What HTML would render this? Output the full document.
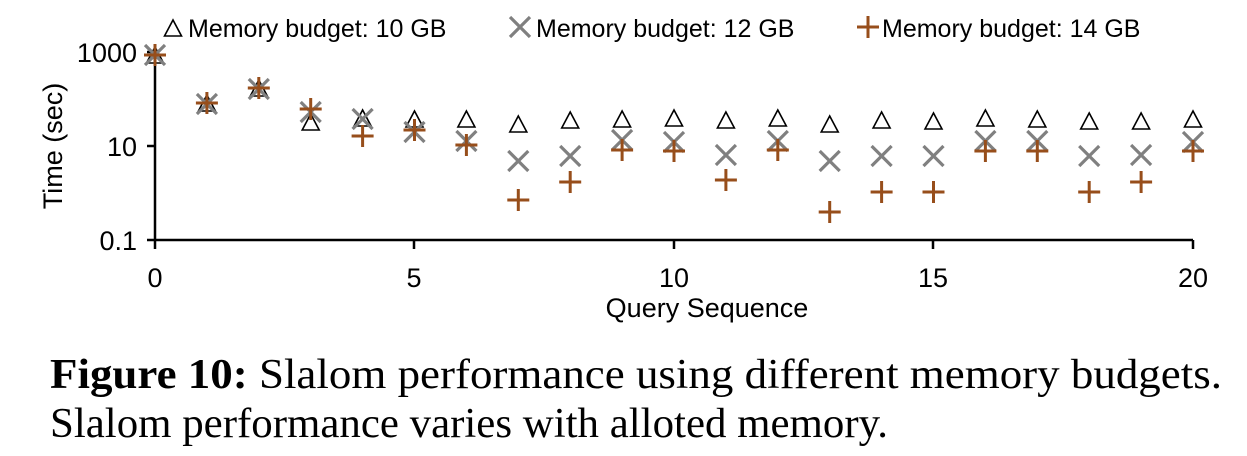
<!DOCTYPE html>
<html><head><style>
body{margin:0;background:#fff;width:1247px;height:451px;overflow:hidden}
</style></head><body>
<svg width="1247" height="451" viewBox="0 0 1247 451" xmlns="http://www.w3.org/2000/svg">
<defs>
<path id="tri" d="M-8.5,8 L0,-8 L8.5,8 Z" fill="none" stroke="#000" stroke-width="1.6"/>
<path id="ex" d="M-10,-10 L10,10 M-10,10 L10,-10" stroke="#808080" stroke-width="3.2" fill="none"/>
<path id="pl" d="M-11,0 L11,0 M0,-11 L0,11" stroke="#974e1b" stroke-width="3" fill="none"/>
</defs>
<g font-family="Liberation Sans, sans-serif" font-size="25" fill="#000">
<use href="#tri" x="173" y="28"/>
<text x="188" y="37">Memory budget: 10 GB</text>
<use href="#ex" x="520" y="27"/>
<text x="536" y="37">Memory budget: 12 GB</text>
<use href="#pl" x="868" y="27"/>
<text x="882" y="37">Memory budget: 14 GB</text>
</g>
<g font-family="Liberation Sans, sans-serif" font-size="27" fill="#000">
<text x="137" y="62" text-anchor="end">1000</text>
<text x="137" y="156" text-anchor="end">10</text>
<text x="137" y="250" text-anchor="end">0.1</text>
<text transform="translate(62,146) rotate(-90)" text-anchor="middle">Time (sec)</text>
<text x="155" y="287" text-anchor="middle">0</text>
<text x="414" y="287" text-anchor="middle">5</text>
<text x="674" y="287" text-anchor="middle">10</text>
<text x="933" y="287" text-anchor="middle">15</text>
<text x="1193" y="287" text-anchor="middle">20</text>
<text x="707" y="317" text-anchor="middle">Query Sequence</text>
</g>
<g stroke="#000" stroke-width="2.5" fill="none">
<path d="M155,52 L155,241 M154,240 L1193,240"/>
<path d="M147,52 L155,52 M147,146 L155,146 M147,240 L155,240"/>
<path d="M155,240 L155,249 M414,240 L414,249 M674,240 L674,249 M933,240 L933,249 M1193,240 L1193,249"/>
</g>
<g>
<use href="#tri" x="155" y="55"/><use href="#ex" x="155" y="55"/><use href="#pl" x="155" y="55"/>
<use href="#tri" x="206.9" y="103"/><use href="#ex" x="206.9" y="104"/><use href="#pl" x="206.9" y="103"/>
<use href="#tri" x="258.8" y="88"/><use href="#ex" x="258.8" y="89"/><use href="#pl" x="258.8" y="88"/>
<use href="#tri" x="310.7" y="122"/><use href="#ex" x="310.7" y="112"/><use href="#pl" x="310.7" y="109"/>
<use href="#tri" x="362.6" y="118"/><use href="#ex" x="362.6" y="119"/><use href="#pl" x="362.6" y="136"/>
<use href="#tri" x="414.5" y="119"/><use href="#ex" x="414.5" y="132"/><use href="#pl" x="414.5" y="130"/>
<use href="#tri" x="466.4" y="119"/><use href="#ex" x="466.4" y="141"/><use href="#pl" x="466.4" y="145"/>
<use href="#tri" x="518.3" y="124"/><use href="#ex" x="518.3" y="161"/><use href="#pl" x="518.3" y="200"/>
<use href="#tri" x="570.2" y="120"/><use href="#ex" x="570.2" y="156"/><use href="#pl" x="570.2" y="182"/>
<use href="#tri" x="622.1" y="119"/><use href="#ex" x="622.1" y="140"/><use href="#pl" x="622.1" y="150"/>
<use href="#tri" x="674" y="118"/><use href="#ex" x="674" y="142"/><use href="#pl" x="674" y="151"/>
<use href="#tri" x="725.9" y="120"/><use href="#ex" x="725.9" y="155"/><use href="#pl" x="725.9" y="180"/>
<use href="#tri" x="777.8" y="118"/><use href="#ex" x="777.8" y="141"/><use href="#pl" x="777.8" y="150"/>
<use href="#tri" x="829.7" y="124"/><use href="#ex" x="829.7" y="161"/><use href="#pl" x="829.7" y="212"/>
<use href="#tri" x="881.6" y="120"/><use href="#ex" x="881.6" y="156"/><use href="#pl" x="881.6" y="192"/>
<use href="#tri" x="933.5" y="121"/><use href="#ex" x="933.5" y="156"/><use href="#pl" x="933.5" y="192"/>
<use href="#tri" x="985.4" y="118"/><use href="#ex" x="985.4" y="141"/><use href="#pl" x="985.4" y="151"/>
<use href="#tri" x="1037.3" y="119"/><use href="#ex" x="1037.3" y="141"/><use href="#pl" x="1037.3" y="151"/>
<use href="#tri" x="1089.2" y="121"/><use href="#ex" x="1089.2" y="156"/><use href="#pl" x="1089.2" y="192"/>
<use href="#tri" x="1141.1" y="121"/><use href="#ex" x="1141.1" y="155"/><use href="#pl" x="1141.1" y="182"/>
<use href="#tri" x="1193" y="119"/><use href="#ex" x="1193" y="142"/><use href="#pl" x="1193" y="151"/>
</g>
<g font-family="Liberation Serif, serif" font-size="42" fill="#000">
<text x="50" y="388" textLength="1172" lengthAdjust="spacingAndGlyphs"><tspan font-weight="bold">Figure 10:</tspan> Slalom performance using different memory budgets.</text>
<text x="50" y="437" textLength="838" lengthAdjust="spacingAndGlyphs">Slalom performance varies with alloted memory.</text>
</g>
</svg>
</body></html>
